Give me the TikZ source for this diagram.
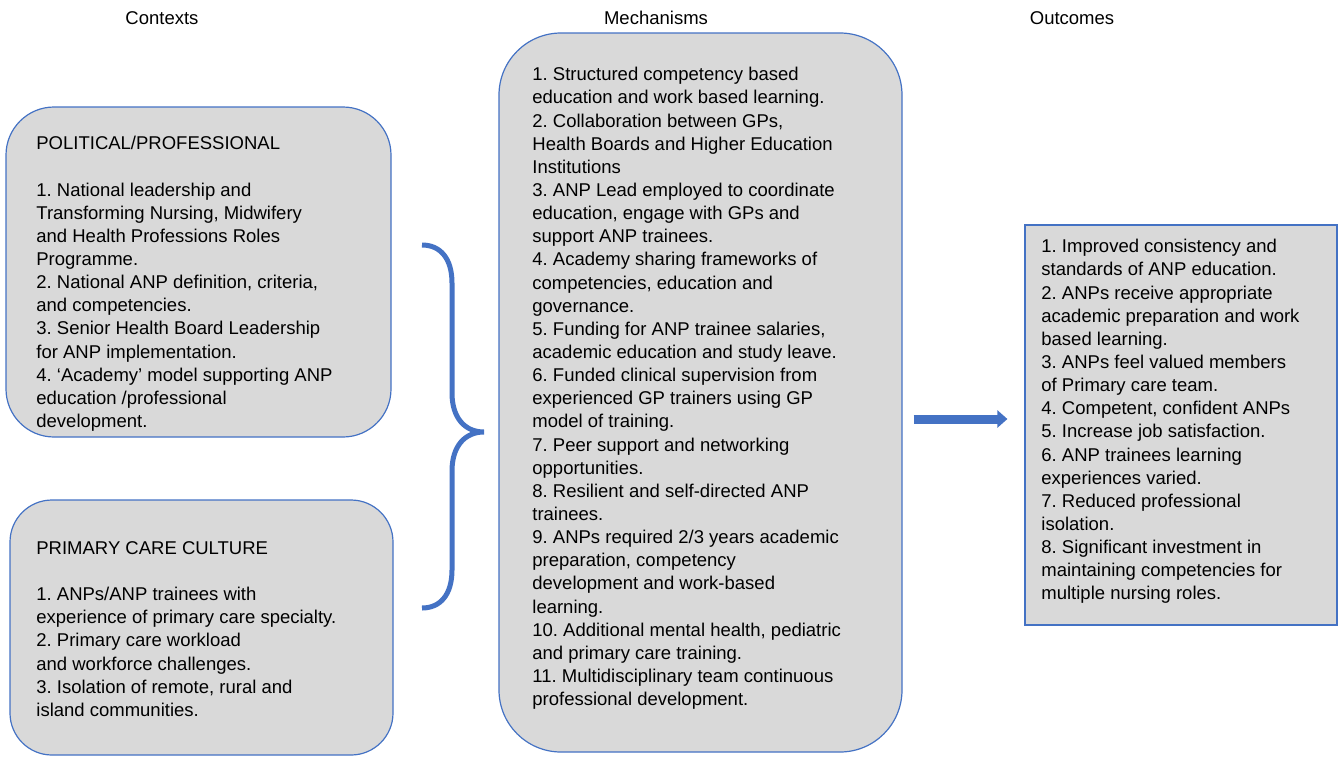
\documentclass[tikz,border=0pt]{standalone}
\usepackage{fontspec}
\setmainfont{Liberation Sans}
\usepackage{xcolor}
\usepackage{tikz}
\usetikzlibrary{positioning,arrows.meta}

\definecolor{boxgray}{HTML}{D9D9D9}
\definecolor{lineblue}{HTML}{4472C4}

\begin{document}
\begin{tikzpicture}[
  x=0.5pt, y=-0.5pt,
  every node/.style={font=\fontsize{9.25}{11.57}\selectfont\frenchspacing, inner sep=0pt},
  heading/.style={anchor=center},
  roundbox/.style={draw=lineblue, line width=0.6pt, fill=boxgray},
  squarebox/.style={draw=lineblue, line width=0.6pt, fill=boxgray},
  boxtext/.style={anchor=north west, align=left},
  bracestyle/.style={draw=lineblue, line width=2.5pt},
  flowarrow/.style={draw=lineblue, line width=4.5pt, -{Triangle[length=5pt,width=8.5pt]}}
]
\useasboundingbox (0,0) rectangle (1338,756);

% column headings
\node[heading] (ctxhead) at (162,18) {Contexts};
\node[heading] (mechhead) at (656,18) {Mechanisms};
\node[heading] (outhead) at (1072,18) {Outcomes};

% boxes
\node[roundbox, rounded corners=24pt, minimum width=192.5pt, minimum height=165pt] (polbox) at (198.5,272) {};
\node[roundbox, rounded corners=21pt, minimum width=191.5pt, minimum height=127.5pt] (pcbox) at (201.5,627.5) {};
\node[roundbox, rounded corners=31pt, minimum width=201.5pt, minimum height=359.5pt] (mechbox) at (700.5,392.5) {};
\node[squarebox, minimum width=156pt, minimum height=200pt] (outbox) at (1181,425) {};

% texts
\node[boxtext] (poltext) at (36,136) {POLITICAL/PROFESSIONAL\\[11.57pt]
1. National leadership and\\
Transforming Nursing, Midwifery\\
and Health Professions Roles\\
Programme.\\
2. National ANP definition, criteria,\\
and competencies.\\
3. Senior Health Board Leadership\\
for ANP implementation.\\
4. ‘Academy’ model supporting ANP\\
education /professional\\
development.};

\node[boxtext] (pctext) at (36,541) {PRIMARY CARE CULTURE\\[11.57pt]
1. ANPs/ANP trainees with\\
experience of primary care specialty.\\
2. Primary care workload\\
and workforce challenges.\\
3. Isolation of remote, rural and\\
island communities.};

\node[boxtext] (mechtext) at (532,67) {1. Structured competency based\\
education and work based learning.\\
2. Collaboration between GPs,\\
Health Boards and Higher Education\\
Institutions\\
3. ANP Lead employed to coordinate\\
education, engage with GPs and\\
support ANP trainees.\\
4. Academy sharing frameworks of\\
competencies, education and\\
governance.\\
5. Funding for ANP trainee salaries,\\
academic education and study leave.\\
6. Funded clinical supervision from\\
experienced GP trainers using GP\\
model of training.\\
7. Peer support and networking\\
opportunities.\\
8. Resilient and self-directed ANP\\
trainees.\\
9. ANPs required 2/3 years academic\\
preparation, competency\\
development and work-based\\
learning.\\
10. Additional mental health, pediatric\\
and primary care training.\\
11. Multidisciplinary team continuous\\
professional development.};

\node[boxtext] (outtext) at (1041,239) {1. Improved consistency and\\
standards of ANP education.\\
2. ANPs receive appropriate\\
academic preparation and work\\
based learning.\\
3. ANPs feel valued members\\
of Primary care team.\\
4. Competent, confident ANPs\\
5. Increase job satisfaction.\\
6. ANP trainees learning\\
experiences varied.\\
7. Reduced professional\\
isolation.\\
8. Significant investment in\\
maintaining competencies for\\
multiple nursing roles.};

% brace joining the contexts
\coordinate (brtop) at (422,245);
\coordinate (brtip) at (484,432);
\coordinate (brbot) at (422,608);
\draw[bracestyle] (brtop) .. controls (440,245) and (452,258) .. (452,283) -- (452,393)
  .. controls (452,418) and (465,432) .. (brtip)
  .. controls (465,432) and (452,446) .. (452,471) -- (452,570)
  .. controls (452,595) and (440,608) .. (brbot);

% arrow to outcomes
\coordinate (arrowy) at (0,419);
\draw[flowarrow] ([xshift=5.5pt]mechbox.east |- arrowy) -- ([xshift=-8.5pt]outbox.west |- arrowy);
\end{tikzpicture}
\end{document}
